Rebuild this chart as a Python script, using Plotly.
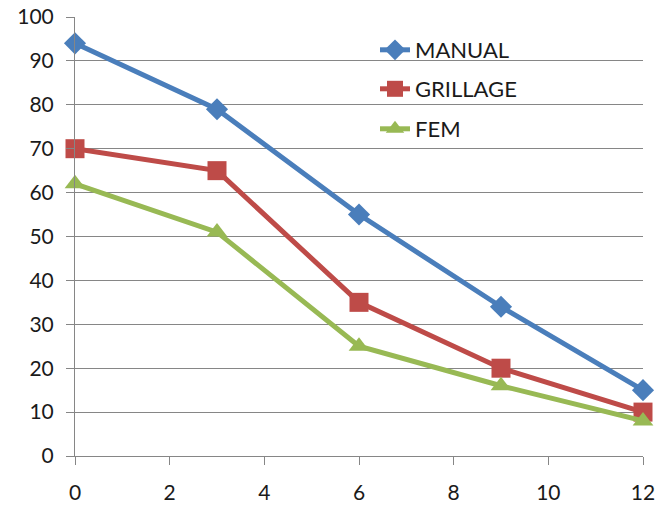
import plotly.graph_objects as go

x_vals = [0, 3, 6, 9, 12]
manual = [94, 79, 55, 34, 15]
grillage = [70, 65, 35, 20, 10]
fem = [62, 51, 25, 16, 8]
series_names = ["MANUAL", "GRILLAGE", "FEM"]
x_ticks = [0, 2, 4, 6, 8, 10, 12]
y_ticks = [0, 10, 20, 30, 40, 50, 60, 70, 80, 90, 100]

colors = ["#4A7EBB", "#BE4B48", "#98B954"]
symbols = ["diamond", "square", "triangle-up"]
msizes = [17, 19, 18]
legends = ["legend", "legend2", "legend3"]

fig = go.Figure()
for name, vals, c, s, ms, lg in zip(series_names, [manual, grillage, fem], colors, symbols, msizes, legends):
    fig.add_trace(go.Scatter(
        x=x_vals, y=vals, name=name, mode="lines+markers",
        line=dict(color=c, width=5),
        marker=dict(symbol=s, size=ms, color=c),
        cliponaxis=False, legend=lg, showlegend=True,
    ))

font = dict(family="Lato, Open Sans, sans-serif", size=21, color="#1a1a1a")
leg_font = dict(family="Lato, Open Sans, sans-serif", size=22, color="#1a1a1a")
leg_common = dict(bgcolor="rgba(0,0,0,0)", font=leg_font, xanchor="left", yanchor="middle",
                  xref="paper", yref="paper", itemwidth=30, borderwidth=0)
leg_x = 0.5 + 16 / 568
fig.update_layout(
    width=658, height=508,
    margin=dict(l=75, r=15, t=17, b=52, autoexpand=False),
    paper_bgcolor="white", plot_bgcolor="white",
    font=font, showlegend=True,
    xaxis=dict(range=[0, 12], tickvals=x_ticks, showgrid=False, showline=True,
               linecolor="#868686", linewidth=1, ticks="outside", ticklen=8,
               tickcolor="#868686", zeroline=False, tickfont=font, automargin=False,
               ticklabelstandoff=10),
    yaxis=dict(range=[0, 100], tickvals=y_ticks, showgrid=True, gridcolor="#868686",
               gridwidth=1, showline=True, linecolor="#868686", linewidth=1,
               ticks="outside", ticklen=8, tickcolor="#868686", zeroline=False,
               tickfont=font, automargin=False, ticklabelstandoff=8),
    legend=dict(x=leg_x, y=(456 - 50) / 439, **leg_common),
    legend2=dict(x=leg_x, y=(456 - 89) / 439, **leg_common),
    legend3=dict(x=leg_x, y=(456 - 129) / 439, **leg_common),
)

fig.write_html("out.html", config={"displayModeBar": False})
with open("out.html", encoding="utf-8") as f:
    html = f.read()
html = html.replace("<head>", "<head><style>html,body{margin:0;padding:0;overflow:hidden;}</style>", 1)
with open("out.html", "w", encoding="utf-8") as f:
    f.write(html)
